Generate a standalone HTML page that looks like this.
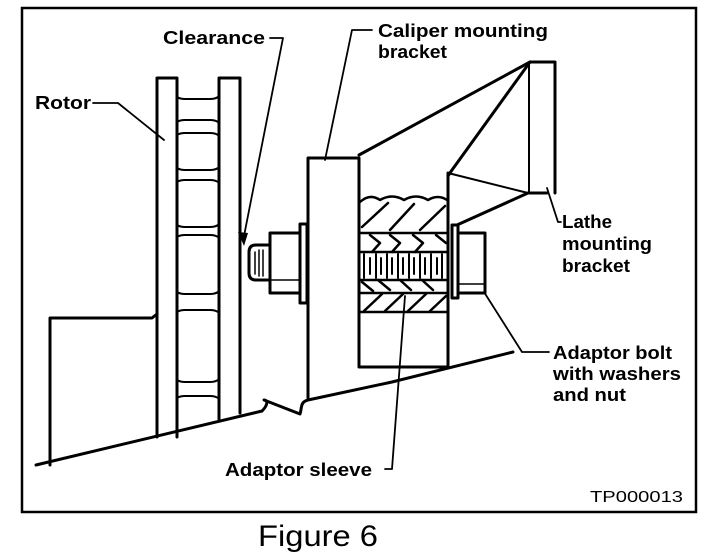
<!DOCTYPE html>
<html><head><meta charset="utf-8"><style>
html,body{margin:0;padding:0;background:#fff;}
svg{display:block}
text{font-family:"Liberation Sans",Arial,sans-serif;font-weight:bold;fill:#000}
</style></head><body>
<svg width="704" height="558" viewBox="0 0 704 558" xmlns="http://www.w3.org/2000/svg">
<rect x="22" y="8" width="674" height="504" fill="none" stroke="#000" stroke-width="2.5"/>
<g fill="none" stroke="#000" stroke-linecap="round" stroke-linejoin="round">
<!-- rotor -->
<g stroke-width="3">
<path d="M157 437 V78 H177 V437"/>
<path d="M219 419 V78 H240 V413"/>
<path d="M50 465 V318 H152 L157 314"/>
<path d="M36 465 L262 411"/>
<path d="M262 411 C268 405 268 400 264 400 L300 414 C302 408 300 402 308 400 L392 382 L513 352"/>
</g>
<g stroke-width="2">
<path d="M177 97 Q180 99 185 99 H210 Q215 99 218 97"/>
<path d="M177 122 Q180 120 185 120 H210 Q215 120 218 122"/>
<path d="M177 135 Q180 133 185 133 H210 Q215 133 218 135"/>
<path d="M177 168 Q180 170 185 170 H210 Q215 170 218 168"/>
<path d="M177 182 Q180 180 185 180 H210 Q215 180 218 182"/>
<path d="M177 225 Q180 227 185 227 H210 Q215 227 218 225"/>
<path d="M177 237 Q180 235 185 235 H210 Q215 235 218 237"/>
<path d="M177 292 Q180 294 185 294 H210 Q215 294 218 292"/>
<path d="M177 312 Q180 310 185 310 H210 Q215 310 218 312"/>
<path d="M177 380 Q180 382 185 382 H210 Q215 382 218 380"/>
<path d="M177 398 Q180 396 185 396 H210 Q215 396 218 398"/>
</g>
<!-- caliper bracket -->
<g stroke-width="3">
<path d="M308 398 V158 H359 V367 H448 V173"/>
<path d="M359 155 L530 62 H555 V193"/>
<path d="M530 62 L452 170 L448 176"/>
<path d="M457 225 L528 193 H547"/>
</g>
<path d="M448 173 L528 193 M529 62 V193" stroke-width="2"/>
<!-- bolt -->
<g stroke-width="3">
<path d="M270 245 H256 Q249 245 249 252 V273 Q249 280 256 280 H270"/>
<rect x="270" y="233" width="30" height="60"/>
<rect x="300" y="224" width="7" height="79"/>
<rect x="452" y="225" width="6" height="73"/>
<path d="M458 233 H485 V293 H458"/>
</g>
<path d="M255 252 V274 M259 250 V276 M263 250 V276 M270 280 H300 M458 284 H485" stroke-width="1.5"/>
<!-- sleeve -->
<g stroke-width="2.5">
<path d="M360 202 Q370 193 380 200 Q392 193 404 200 Q416 193 428 200 Q438 194 447 200"/>
<path d="M360 233 H447 M360 252 H447 M360 280 H447 M360 293 H447 M360 312 H447"/>
<path d="M362 227 L388 203 M390 230 L414 204 M420 230 L445 206"/>
<path d="M370 235 L380 243 L372 252 M390 235 L400 243 L392 252 M413 235 L423 243 L415 252 M436 235 L446 243"/>
<path d="M362 282 L373 291 M378 280 L390 290 M400 280 L411 290 M422 280 L433 290"/>
<path d="M364 311 L382 294 M385 311 L403 294 M408 311 L426 294 M430 311 L446 296"/>
</g>
<g stroke-width="2">
<path d="M364 254 V278 M376 254 V278 M387 254 V278 M398 254 V278 M409 254 V278 M420 254 V278 M431 254 V278 M442 254 V278"/>
<path d="M370 258 V274 M381 258 V274 M392 258 V274 M403 258 V274 M414 258 V274 M425 258 V274 M437 258 V274"/>
</g>
<!-- leaders -->
<g stroke-width="1.8">
<path d="M93 103 H118 L164 140"/>
<path d="M270 38 H283 L244 236"/>
<path d="M372 30 H352 L325 160"/>
<path d="M547 188 L558 222 H561"/>
<path d="M549 352 H522 L484 292"/>
<path d="M385 469 H392 L405 296"/>
</g>
</g>
<path d="M238 232 L244 246 L248 233 Z" fill="#000"/>
<text x="35" y="109" font-size="18" textLength="56" lengthAdjust="spacingAndGlyphs">Rotor</text>
<text x="163" y="44" font-size="18" textLength="102" lengthAdjust="spacingAndGlyphs">Clearance</text>
<text x="378" y="37" font-size="18" textLength="170" lengthAdjust="spacingAndGlyphs">Caliper mounting</text>
<text x="378" y="58" font-size="18" textLength="69" lengthAdjust="spacingAndGlyphs">bracket</text>
<text x="562" y="228" font-size="18" textLength="50" lengthAdjust="spacingAndGlyphs">Lathe</text>
<text x="562" y="250" font-size="18" textLength="90" lengthAdjust="spacingAndGlyphs">mounting</text>
<text x="562" y="272" font-size="18" textLength="68" lengthAdjust="spacingAndGlyphs">bracket</text>
<text x="553" y="359" font-size="18" textLength="119" lengthAdjust="spacingAndGlyphs">Adaptor bolt</text>
<text x="553" y="380" font-size="18" textLength="128" lengthAdjust="spacingAndGlyphs">with washers</text>
<text x="553" y="401" font-size="18" textLength="73" lengthAdjust="spacingAndGlyphs">and nut</text>
<text x="225" y="476" font-size="18" textLength="147" lengthAdjust="spacingAndGlyphs">Adaptor sleeve</text>
<text x="590" y="502" font-size="16" style="font-weight:normal" textLength="93" lengthAdjust="spacingAndGlyphs">TP000013</text>
<text x="258" y="546" font-size="30" style="font-weight:normal" textLength="120" lengthAdjust="spacingAndGlyphs">Figure 6</text>
</svg>
</body></html>
